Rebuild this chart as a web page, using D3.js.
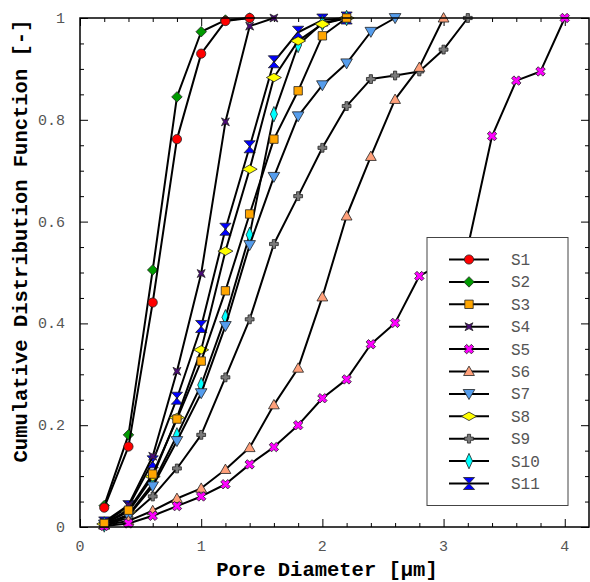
<!DOCTYPE html>
<html>
<head>
<meta charset="utf-8">
<script src="https://cdn.jsdelivr.net/npm/d3@7"></script>
<style>
  html, body { margin: 0; padding: 0; background: #fff; }
  svg { display: block; }
</style>
</head>
<body>
<svg id="chart" width="590" height="582"></svg>
<script>
// Pore diameters (µm) at which each cumulative distribution was sampled
const diameters = [0.2, 0.4, 0.6, 0.8, 1.0, 1.2, 1.4, 1.6, 1.8, 2.0,
                   2.2, 2.4, 2.6, 2.8, 3.0, 3.2, 3.4, 3.6, 3.8, 4.0];

// Cumulative distribution values per sample (starting at 0.2 µm)
const S1  = [0.038, 0.158, 0.441, 0.762, 0.930, 0.994, 1.0];
const S2  = [0.042, 0.181, 0.505, 0.845, 0.973, 0.996, 1.0];
const S3  = [0.007, 0.033, 0.104, 0.212, 0.326, 0.464, 0.615, 0.762, 0.857, 0.965, 1.0];
const S4  = [0.010, 0.043, 0.139, 0.306, 0.498, 0.796, 0.984, 1.0];
const S5  = [0.002, 0.007, 0.022, 0.041, 0.060, 0.084, 0.123, 0.157, 0.200, 0.253,
             0.290, 0.359, 0.401, 0.493, 0.520, 0.550, 0.768, 0.877, 0.895, 1.0];
const S6  = [0.004, 0.012, 0.032, 0.056, 0.076, 0.113, 0.156, 0.240, 0.312, 0.452,
             0.611, 0.728, 0.840, 0.903, 1.0];
const S7  = [0.005, 0.022, 0.080, 0.169, 0.263, 0.395, 0.554, 0.688, 0.807, 0.868,
             0.911, 0.973, 1.0];
const S8  = [0.006, 0.030, 0.099, 0.215, 0.348, 0.542, 0.703, 0.883, 0.955, 0.988, 1.0];
const S9  = [0.004, 0.018, 0.060, 0.115, 0.181, 0.294, 0.408, 0.556, 0.650, 0.745,
             0.827, 0.880, 0.887, 0.895, 0.938, 1.0];
const S10 = [0.005, 0.024, 0.085, 0.180, 0.279, 0.412, 0.574, 0.811, 0.947, 0.990, 1.0];
const S11 = [0.008, 0.040, 0.128, 0.253, 0.394, 0.585, 0.747, 0.914, 0.972, 0.996, 1.0];

const seriesNames  = ["S1", "S2", "S3", "S4", "S5", "S6", "S7", "S8", "S9", "S10", "S11"];
const seriesValues = [S1, S2, S3, S4, S5, S6, S7, S8, S9, S10, S11];

const xTickLabels = ["0", "1", "2", "3", "4"];
const yTickLabels = ["0", "0.2", "0.4", "0.6", "0.8", "1"];

// ---- marker shapes ----
function diamondType(w, h) {
  return { draw(ctx) {
    ctx.moveTo(0, -h / 2); ctx.lineTo(w / 2, 0); ctx.lineTo(0, h / 2); ctx.lineTo(-w / 2, 0); ctx.closePath();
  }};
}
function polyType(pts) {
  return { draw(ctx) {
    ctx.moveTo(pts[0][0], pts[0][1]);
    for (let i = 1; i < pts.length; i++) ctx.lineTo(pts[i][0], pts[i][1]);
    ctx.closePath();
  }};
}
function crossPoints(a, b) {
  return [[-a, -b], [a, -b], [a, -a], [b, -a], [b, a], [a, a], [a, b], [-a, b],
          [-a, a], [-b, a], [-b, -a], [-a, -a]];
}
const circleType = { draw(ctx) { ctx.moveTo(4.6, 0); ctx.arc(0, 0, 4.6, 0, 2 * Math.PI); } };
const squareType = polyType([[-4.2, -4.2], [4.2, -4.2], [4.2, 4.2], [-4.2, 4.2]]);
// four-pointed star with its tips on the diagonals
const starType = (() => {
  const R = 5.6, r = 1.9, pts = [];
  for (let i = 0; i < 8; i++) {
    const a = Math.PI / 4 + i * Math.PI / 4;
    const rad = i % 2 === 0 ? R : r;
    pts.push([rad * Math.cos(a), rad * Math.sin(a)]);
  }
  return polyType(pts);
})();
// diagonal cross ("x")
const xType = (() => {
  const c = Math.SQRT1_2;
  return polyType(crossPoints(1.7, 5.0).map(([px, py]) => [c * (px - py), c * (px + py)]));
})();
const plusType = polyType(crossPoints(1.6, 4.4));
const triUpType   = polyType([[0, -5.4], [5.4, 4.0], [-5.4, 4.0]]);
const triDownType = polyType([[-5.8, -4.4], [5.8, -4.4], [0, 5.6]]);
const hourglassType = polyType([[-5.6, -6], [5.6, -6], [0, 0], [5.6, 6], [-5.6, 6], [0, 0]]);

const markerTypes = [circleType, diamondType(10.5, 10.5), squareType, starType, xType,
                     triUpType, triDownType, diamondType(15, 8.5), plusType,
                     diamondType(7, 15.5), hourglassType];
const markerFills = ["#ff0000", "#009a00", "#ffa500", "#4b0a78", "#ff00ff",
                     "#ffa07a", "#559ded", "#ffff00", "#7a7a7a", "#00ffff", "#0000ff"];

// ---- layout ----
const svg = d3.select("#chart");
const plotLeft = 80, plotRight = 589, plotTop = 18, plotBottom = 527;
const x = d3.scaleLinear().domain([0, 4.2]).range([plotLeft, plotRight]);
const y = d3.scaleLinear().domain([0, 1]).range([plotBottom, plotTop]);

const monoFont = "'Liberation Mono', 'Courier New', 'DejaVu Sans Mono', monospace";
const tickGrey = "#555";

// ---- axes: ticks pointing inward on all four sides ----
const xMajor = [0, 1, 2, 3, 4];
const xMinor = d3.range(0, 21).map(i => i * 0.2).filter(v => Math.abs(v - Math.round(v)) > 1e-6);
const yMajor = [0, 0.2, 0.4, 0.6, 0.8, 1];
const yMinor = d3.range(0, 21).map(i => i * 0.05).filter(v => Math.abs(v / 0.2 - Math.round(v / 0.2)) > 1e-6);

function addAxis(axis, transform) {
  const g = svg.append("g").attr("transform", transform).call(axis);
  g.select(".domain").remove();
  g.selectAll(".tick line").attr("stroke", "#000").attr("stroke-width", 1);
  return g;
}
addAxis(d3.axisBottom(x).tickValues(xMajor).tickSize(-8).tickFormat(""), `translate(0,${plotBottom})`);
addAxis(d3.axisBottom(x).tickValues(xMinor).tickSize(-4).tickFormat(""), `translate(0,${plotBottom})`);
addAxis(d3.axisTop(x).tickValues(xMajor).tickSize(-8).tickFormat(""), `translate(0,${plotTop})`);
addAxis(d3.axisTop(x).tickValues(xMinor).tickSize(-4).tickFormat(""), `translate(0,${plotTop})`);
addAxis(d3.axisLeft(y).tickValues(yMajor).tickSize(-8).tickFormat(""), `translate(${plotLeft},0)`);
addAxis(d3.axisLeft(y).tickValues(yMinor).tickSize(-4).tickFormat(""), `translate(${plotLeft},0)`);
addAxis(d3.axisRight(y).tickValues(yMajor).tickSize(-8).tickFormat(""), `translate(${plotRight},0)`);
addAxis(d3.axisRight(y).tickValues(yMinor).tickSize(-4).tickFormat(""), `translate(${plotRight},0)`);

// tick labels
svg.append("g").selectAll("text").data(xMajor).join("text")
  .attr("x", d => x(d)).attr("y", plotBottom + 24)
  .attr("text-anchor", "middle")
  .attr("font-family", monoFont).attr("font-size", 15).attr("fill", tickGrey)
  .text((d, i) => xTickLabels[i]);
svg.append("g").selectAll("text").data(yMajor).join("text")
  .attr("x", 65).attr("y", d => y(d) + 5)
  .attr("text-anchor", "end")
  .attr("font-family", monoFont).attr("font-size", 15).attr("fill", tickGrey)
  .text((d, i) => yTickLabels[i]);

// axis titles
svg.append("text")
  .attr("x", 327).attr("y", 576)
  .attr("text-anchor", "middle")
  .attr("font-family", monoFont).attr("font-size", 20.5).attr("font-weight", "bold").attr("fill", "#000")
  .text("Pore Diameter [µm]");
svg.append("text")
  .attr("transform", "translate(27,241) rotate(-90)")
  .attr("text-anchor", "middle")
  .attr("font-family", monoFont).attr("font-size", 20.5).attr("font-weight", "bold").attr("fill", "#000")
  .text("Cumulative Distribution Function [-]");

// ---- series ----
const plot = svg.append("g");
const line = d3.line().x(d => x(d[0])).y(d => y(d[1]));
const sym = d3.symbol();

// later samples go underneath, S1 ends up on top
for (let s = seriesValues.length - 1; s >= 0; s--) {
  const pts = seriesValues[s].map((v, i) => [diameters[i], v]);
  const g = plot.append("g");
  g.append("path").datum(pts)
    .attr("d", line).attr("fill", "none")
    .attr("stroke", "#000").attr("stroke-width", 2).attr("stroke-linejoin", "round");
  g.selectAll("path.mk").data(pts).join("path")
    .attr("class", "mk")
    .attr("transform", d => `translate(${x(d[0])},${y(d[1])})`)
    .attr("d", sym.type(markerTypes[s])())
    .attr("fill", markerFills[s])
    .attr("stroke", "#222").attr("stroke-width", 0.8);
}

// frame
svg.append("rect")
  .attr("x", plotLeft).attr("y", plotTop).attr("width", plotRight - plotLeft).attr("height", plotBottom - plotTop)
  .attr("fill", "none").attr("stroke", "#000").attr("stroke-width", 1.5);

// ---- legend ----
const lg = svg.append("g");
lg.append("rect")
  .attr("x", 427).attr("y", 237.5).attr("width", 141).attr("height", 268)
  .attr("fill", "#fff").attr("stroke", "#444").attr("stroke-width", 1);
seriesNames.forEach((name, i) => {
  const yy = 259.5 + i * 22.4;
  lg.append("line").attr("x1", 449).attr("x2", 489).attr("y1", yy).attr("y2", yy)
    .attr("stroke", "#000").attr("stroke-width", 2);
  lg.append("path")
    .attr("transform", `translate(469,${yy})`)
    .attr("d", sym.type(markerTypes[i])())
    .attr("fill", markerFills[i]).attr("stroke", "#222").attr("stroke-width", 0.8);
  lg.append("text").attr("x", 511).attr("y", yy + 5.5)
    .attr("font-family", monoFont).attr("font-size", 16).attr("fill", tickGrey)
    .text(name);
});
</script>
</body>
</html>
